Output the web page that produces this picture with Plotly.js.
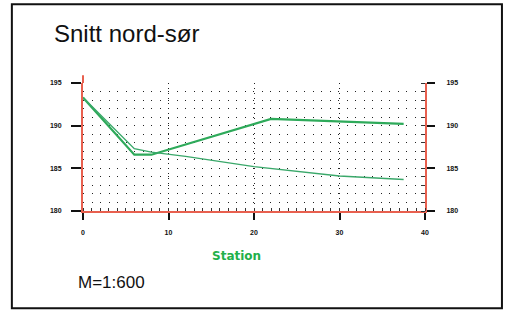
<!DOCTYPE html>
<html>
<head>
<meta charset="utf-8">
<script src="https://cdn.plot.ly/plotly-3.0.1.min.js"></script>
<style>html,body{margin:0;padding:0;background:#fff;}#chart{width:506px;height:318px;}</style>
</head>
<body>
<div id="chart"></div>
<script>
// Data
const upperStation = [0, 6, 8, 22, 37.5];
const upperLevel   = [193.3, 186.6, 186.6, 190.8, 190.2];
const lowerStation = [0, 6, 8, 12, 20, 30, 37.5];
const lowerLevel   = [193.3, 187.3, 186.9, 186.4, 185.2, 184.1, 183.7];
const xTicks = [0, 10, 20, 30, 40];
const yTicks = [180, 185, 190, 195];
const titleText = 'Snitt nord-sør';
const xLabel = 'Station';
const scaleText = 'M=1:600';

const red = '#e8604f';
const green = '#2eaa5a';
const tickFont = {family: 'Liberation Sans', size: 7, color: '#111', weight: 'bold'};

const traces = [
  {x: upperStation, y: upperLevel, mode: 'lines', line: {color: green, width: 2.2}, hoverinfo: 'skip'},
  {x: lowerStation, y: lowerLevel, mode: 'lines', line: {color: '#3aa86a', width: 1.4}, hoverinfo: 'skip'}
];

const layout = {
  width: 506, height: 318,
  margin: {l: 83, r: 81, t: 83, b: 107},
  paper_bgcolor: '#ffffff', plot_bgcolor: '#ffffff',
  showlegend: false,
  xaxis: {
    range: [0, 40], tickvals: xTicks, ticktext: xTicks.map(String),
    showline: true, linecolor: red, linewidth: 2,
    ticks: 'outside', ticklen: 7, tickwidth: 2, tickcolor: '#111',
    tickfont: tickFont, ticklabelstandoff: 7,
    showgrid: true, gridcolor: '#222', gridwidth: 1, griddash: '1px,4px',
    zeroline: false,
    minor: {dtick: 1, ticks: 'inside', ticklen: 3, tickwidth: 1, tickcolor: '#333', showgrid: false}
  },
  yaxis: {
    range: [180, 195], tickvals: yTicks, ticktext: yTicks.map(String),
    showline: true, linecolor: red, linewidth: 2,
    ticks: 'outside', ticklen: 10, tickwidth: 2, tickcolor: '#111',
    tickfont: tickFont, ticklabelstandoff: 8,
    showgrid: true, gridcolor: '#222', gridwidth: 1, griddash: '1.3px,7.2px',
    zeroline: false,
    minor: {dtick: 1, showgrid: true, gridcolor: '#222', gridwidth: 1, griddash: '1.3px,7.2px', ticks: ''}
  },
  yaxis2: {
    overlaying: 'y', side: 'right',
    range: [180, 195], tickvals: yTicks, ticktext: yTicks.map(String),
    showline: true, linecolor: red, linewidth: 2,
    ticks: 'outside', ticklen: 8, tickwidth: 2, tickcolor: '#111',
    tickfont: tickFont, ticklabelstandoff: 10,
    showgrid: false, zeroline: false,
    minor: {dtick: 1, ticks: 'inside', ticklen: 4, tickwidth: 1, tickcolor: '#333'}
  },
  shapes: [
    {type: 'rect', xref: 'paper', yref: 'paper',
     x0: -0.208, x1: 1.225, y0: -0.76, y1: 1.615,
     line: {color: '#111', width: 2}, fillcolor: 'rgba(0,0,0,0)', layer: 'below'},
    {type: 'line', xref: 'paper', yref: 'paper', x0: 0, x1: 0, y0: 1, y1: 1.06,
     line: {color: red, width: 2}}
  ],
  annotations: [
    {text: titleText, xref: 'paper', yref: 'paper', x: -0.09, y: 1.39,
     xanchor: 'left', yanchor: 'middle', showarrow: false,
     font: {family: 'Liberation Sans', size: 24, color: '#111'}},
    {text: xLabel, xref: 'paper', yref: 'paper', x: 0.45, y: -0.35,
     xanchor: 'center', yanchor: 'middle', showarrow: false,
     font: {family: 'DejaVu Sans', size: 12, color: '#22b04a', weight: 'bold'}},
    {text: scaleText, xref: 'paper', yref: 'paper', x: -0.02, y: -0.56,
     xanchor: 'left', yanchor: 'middle', showarrow: false,
     font: {family: 'Liberation Sans', size: 17, color: '#111'}}
  ]
};

// invisible trace so yaxis2 is drawn
traces.push({x: [0], y: [180], yaxis: 'y2', mode: 'markers', marker: {opacity: 0}, hoverinfo: 'skip'});

Plotly.newPlot('chart', traces, layout, {staticPlot: true, displayModeBar: false});
</script>
</body>
</html>
